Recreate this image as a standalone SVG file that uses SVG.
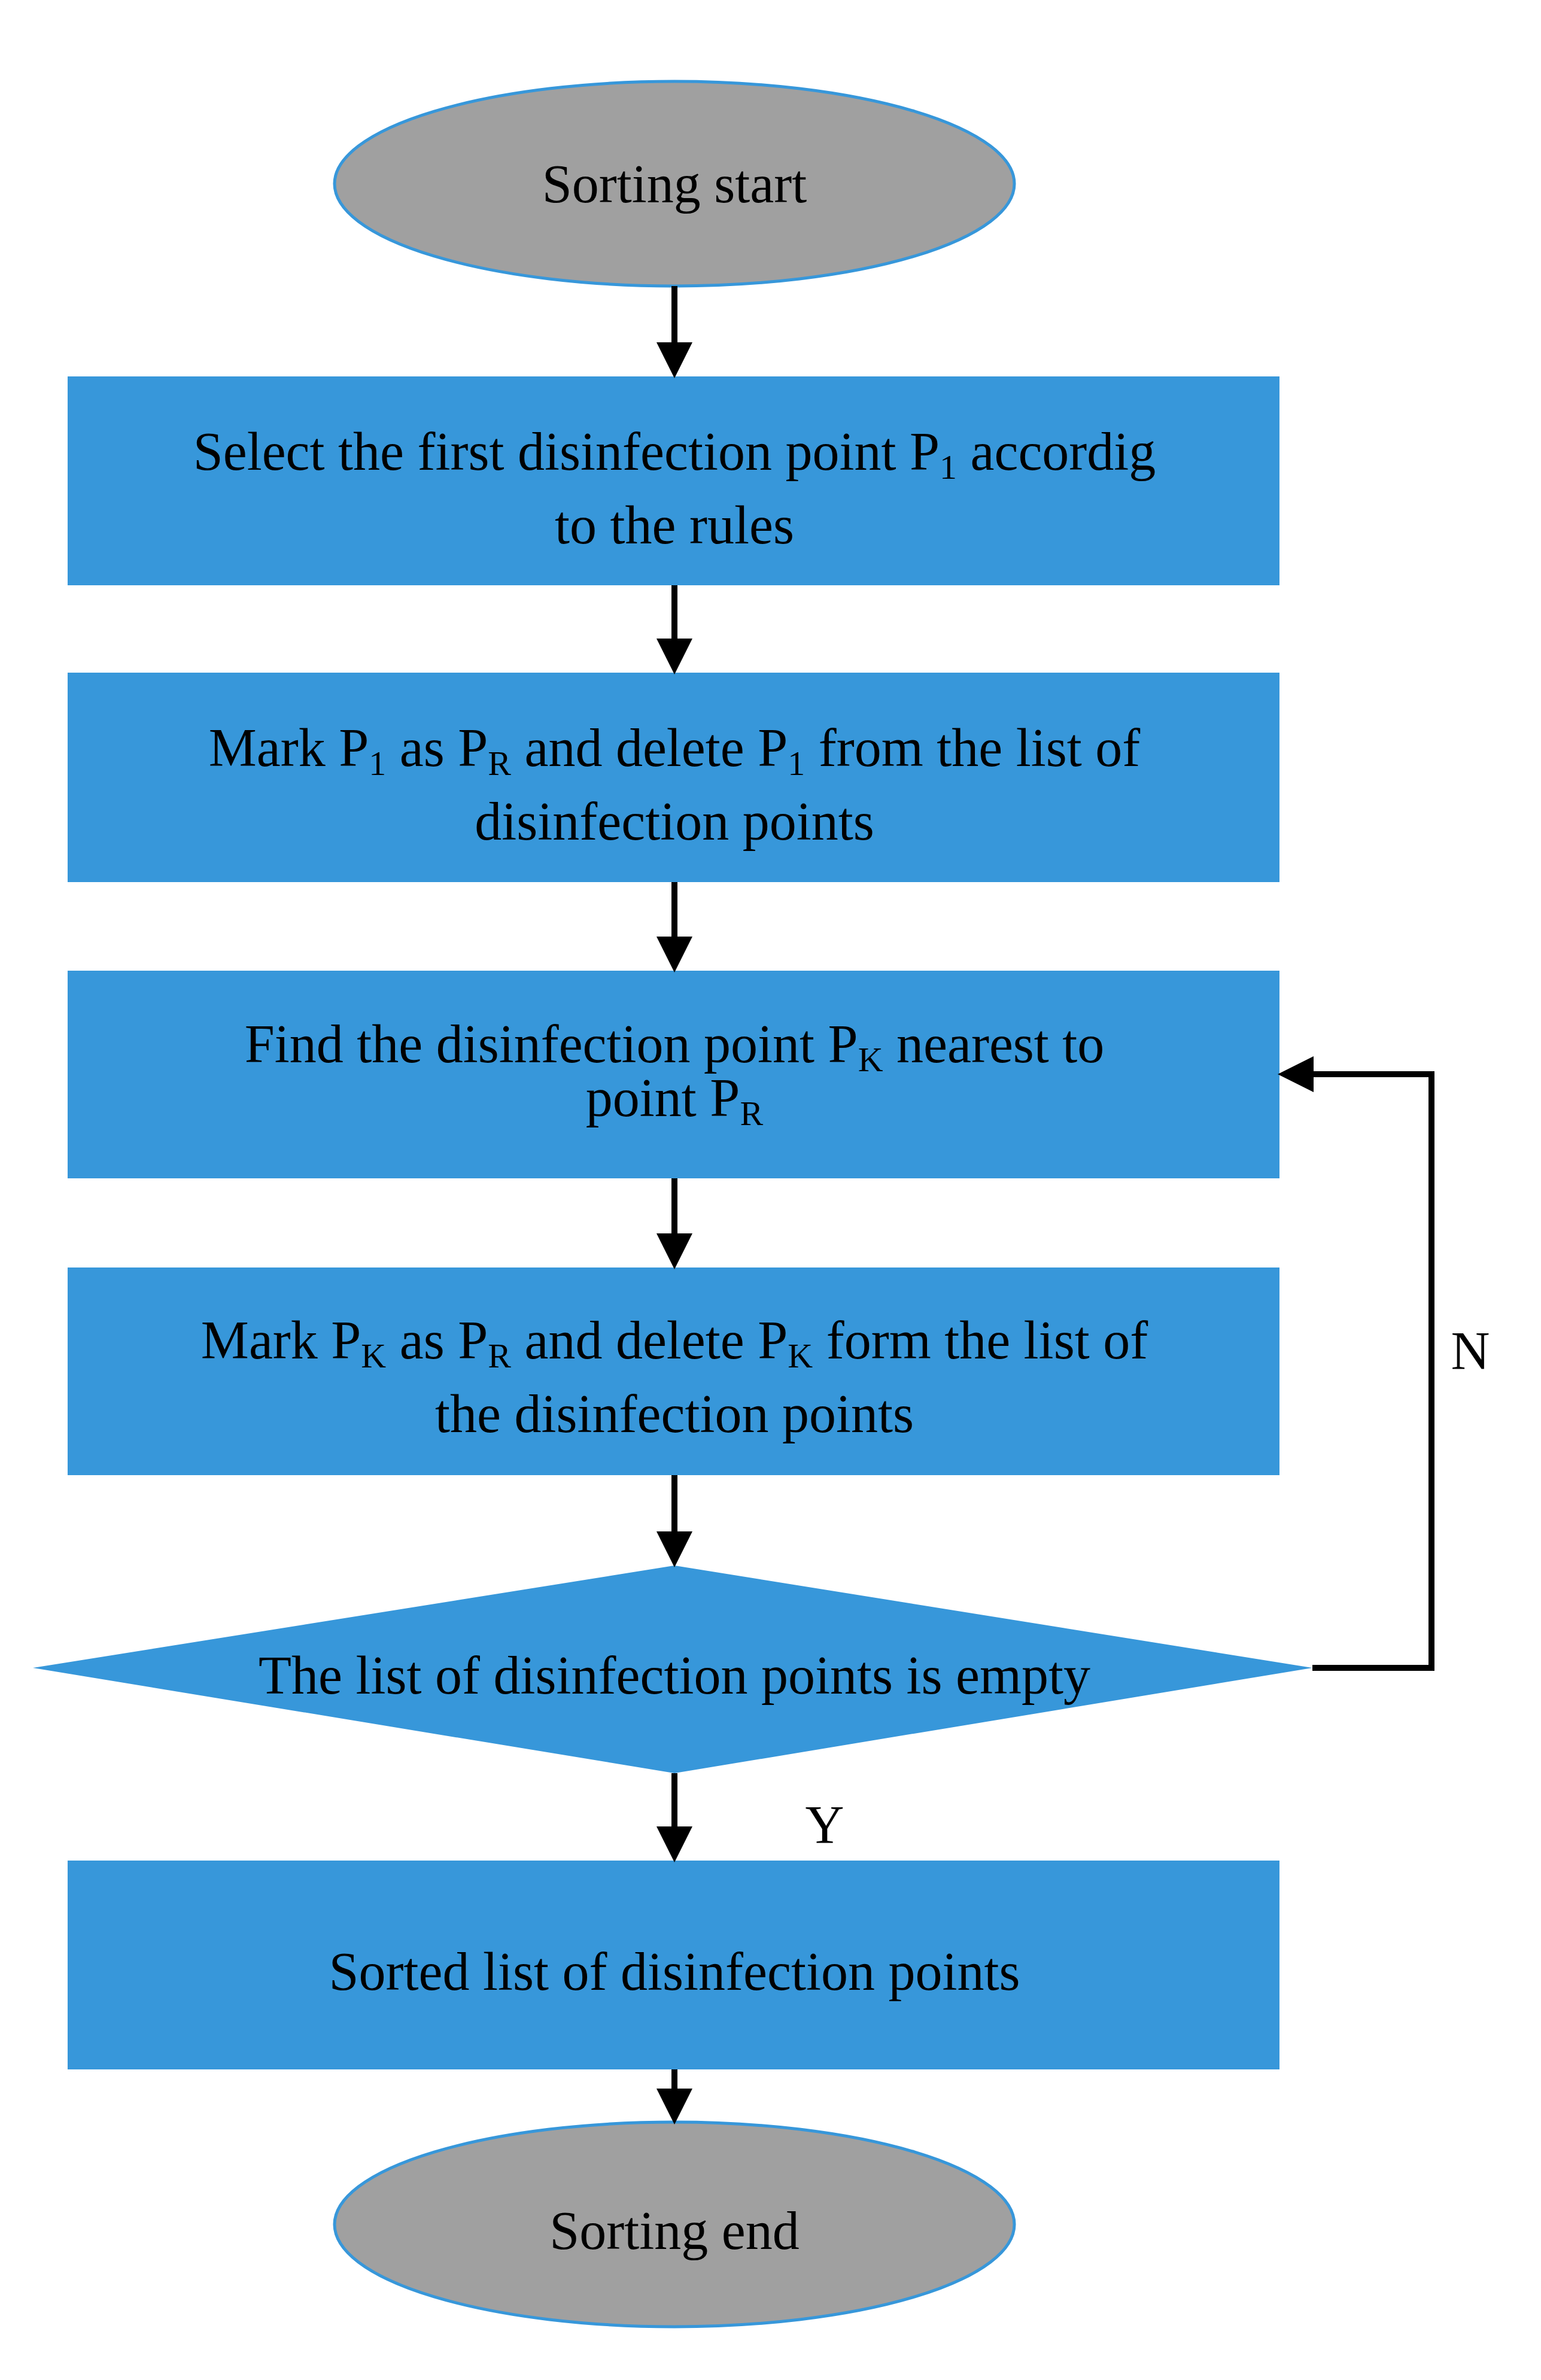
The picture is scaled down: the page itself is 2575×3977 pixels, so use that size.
<svg xmlns="http://www.w3.org/2000/svg" width="2575" height="3977" viewBox="0 0 2575 3977">
<style>
.box{fill:#3797da}
.ell{fill:#a0a0a0;stroke:#3797da;stroke-width:5}
.t{font-family:"Liberation Serif",serif;font-size:90px;fill:#000;text-anchor:middle}
.s{font-size:58px}
.c{stroke:#000;stroke-width:10;fill:none}
</style>
<defs><marker id="a" markerWidth="6" markerHeight="6" refX="5" refY="3" orient="auto" markerUnits="strokeWidth"><path d="M0,0 L6,3 L0,6 z" fill="#000"/></marker></defs>
<rect width="2575" height="3977" fill="#fff"/>
<g id="start"><ellipse class="ell" cx="1127" cy="307" rx="568" ry="171"/><text class="t" x="1127" y="338">Sorting start</text></g>
<g id="b1"><rect class="box" x="113" y="629" width="2025" height="349"/><text class="t" x="1127" y="785">Select the first disinfection point P<tspan class="s" dy="15">1</tspan><tspan dy="-15"> accordig</tspan></text><text class="t" x="1127" y="908">to the rules</text></g>
<g id="b2"><rect class="box" x="113" y="1124" width="2025" height="350"/><text class="t" x="1127" y="1280">Mark P<tspan class="s" dy="15">1</tspan><tspan dy="-15"> as P</tspan><tspan class="s" dy="15">R</tspan><tspan dy="-15"> and delete P</tspan><tspan class="s" dy="15">1</tspan><tspan dy="-15"> from the list of</tspan></text><text class="t" x="1127" y="1403">disinfection points</text></g>
<g id="b3"><rect class="box" x="113" y="1622" width="2025" height="347"/><text class="t" x="1127" y="1775">Find the disinfection point P<tspan class="s" dy="15">K</tspan><tspan dy="-15"> nearest to</tspan></text><text class="t" x="1127" y="1865">point P<tspan class="s" dy="15">R</tspan></text></g>
<g id="b4"><rect class="box" x="113" y="2118" width="2025" height="347"/><text class="t" x="1127" y="2270">Mark P<tspan class="s" dy="15">K</tspan><tspan dy="-15"> as P</tspan><tspan class="s" dy="15">R</tspan><tspan dy="-15"> and delete P</tspan><tspan class="s" dy="15">K</tspan><tspan dy="-15"> form the list of</tspan></text><text class="t" x="1127" y="2393">the disinfection points</text></g>
<g id="d"><polygon class="box" points="1127,2616 2193,2787 1127,2963 55,2787"/><text class="t" x="1127" y="2830">The list of disinfection points is empty</text></g>
<g id="b5"><rect class="box" x="113" y="3109" width="2025" height="349"/><text class="t" x="1127" y="3325">Sorted list of disinfection points</text></g>
<g id="end"><ellipse class="ell" cx="1127" cy="3717" rx="568" ry="171"/><text class="t" x="1127" y="3758">Sorting end</text></g>
<g id="connectors">
<line class="c" x1="1127" y1="478" x2="1127" y2="622" marker-end="url(#a)"/>
<line class="c" x1="1127" y1="978" x2="1127" y2="1117" marker-end="url(#a)"/>
<line class="c" x1="1127" y1="1474" x2="1127" y2="1615" marker-end="url(#a)"/>
<line class="c" x1="1127" y1="1969" x2="1127" y2="2111" marker-end="url(#a)"/>
<line class="c" x1="1127" y1="2465" x2="1127" y2="2609" marker-end="url(#a)"/>
<line class="c" x1="1127" y1="2963" x2="1127" y2="3102" marker-end="url(#a)"/>
<line class="c" x1="1127" y1="3458" x2="1127" y2="3540" marker-end="url(#a)"/>
<polyline class="c" points="2193,2787 2392,2787 2392,1795 2145,1795" marker-end="url(#a)"/>
<text class="t" x="2457" y="2288">N</text>
<text class="t" x="1378" y="3080">Y</text>
</g>
</svg>
